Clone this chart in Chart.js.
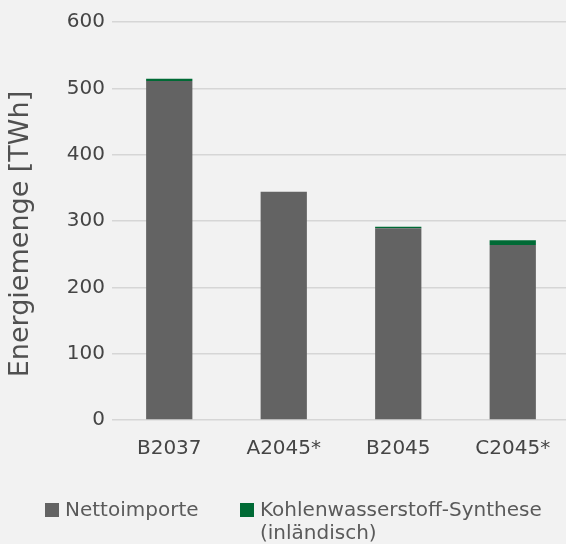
<!DOCTYPE html>
<html>
<head>
<meta charset="utf-8">
<script src="https://cdn.jsdelivr.net/npm/chart.js@4"></script>
<style>
  html, body { margin: 0; padding: 0; background: #f2f2f2; }
  #wrap { width: 566px; height: 544px; }
</style>
</head>
<body>
<div id="wrap"><canvas id="c" width="566" height="544"></canvas></div>
<script>
// Szenarien und Energiemengen in TWh
const categories = ['B2037', 'A2045*', 'B2045', 'C2045*'];
const nettoimporte = [511, 344, 289, 264];
const synthese = [3.5, 0, 2.5, 7];
const seriesLabels = ['Nettoimporte', 'Kohlenwasserstoff-Synthese (inländisch)'];
const legendLines = [['Nettoimporte'], ['Kohlenwasserstoff-Synthese', '(inländisch)']];
const yTicks = [0, 100, 200, 300, 400, 500, 600];
const yTitle = 'Energiemenge [TWh]';

const GRAY = '#636363';
const GREEN = '#006a35';
const TEXT = '#454545';
const FONT = "'DejaVu Sans', sans-serif";

const background = {
  id: 'background',
  beforeDraw(chart) {
    const ctx = chart.ctx;
    ctx.save();
    ctx.fillStyle = '#f2f2f2';
    ctx.fillRect(0, 0, chart.width, chart.height);
    ctx.restore();
  }
};

// Plotbereich rechts etwas über den Rand hinaus verlängern
const widenArea = {
  id: 'widenArea',
  afterLayout(chart) {
    const right = chart.width + 4;
    chart.chartArea.right = right;
    chart.chartArea.width = right - chart.chartArea.left;
    const x = chart.scales.x;
    x.right = right;
    x.width = right - x.left;
    x.configure();
  }
};

// Achsentitel links, senkrecht
const axisTitle = {
  id: 'axisTitle',
  afterDraw(chart) {
    const ctx = chart.ctx;
    ctx.save();
    ctx.translate(21, 234);
    ctx.rotate(-Math.PI / 2);
    ctx.font = '27px ' + FONT;
    ctx.fillStyle = '#505050';
    ctx.textAlign = 'center';
    ctx.textBaseline = 'middle';
    ctx.fillText(yTitle, 0, 0);
    ctx.restore();
  }
};

// Legende unter dem Diagramm, zweiter Eintrag zweizeilig
const bottomLegend = {
  id: 'bottomLegend',
  afterDraw(chart) {
    const ctx = chart.ctx;
    const starts = [45, 240];
    const top = 503, box = 14, lineH = 23;
    ctx.save();
    ctx.font = '20px ' + FONT;
    ctx.textBaseline = 'middle';
    ctx.textAlign = 'left';
    chart.data.datasets.forEach((ds, i) => {
      const x = starts[i];
      ctx.fillStyle = ds.backgroundColor;
      ctx.fillRect(x, top, box, box);
      ctx.fillStyle = '#5a5a5a';
      legendLines[i].forEach((line, j) => {
        ctx.fillText(line, x + box + 6, top + box / 2 + 1 + j * lineH);
      });
    });
    ctx.restore();
  }
};

new Chart(document.getElementById('c'), {
  type: 'bar',
  data: {
    labels: categories,
    datasets: [
      { label: seriesLabels[0], data: nettoimporte, backgroundColor: GRAY, borderWidth: 0 },
      { label: seriesLabels[1], data: synthese, backgroundColor: GREEN, borderWidth: 0 }
    ]
  },
  options: {
    responsive: false,
    animation: false,
    devicePixelRatio: 1,
    layout: { padding: { top: 22, right: 0, bottom: 84, left: 0 } },
    datasets: { bar: { barPercentage: 0.404, categoryPercentage: 1 } },
    plugins: { legend: { display: false }, tooltip: { enabled: false } },
    scales: {
      x: {
        stacked: true,
        grid: { display: false, drawTicks: false },
        border: { display: false },
        ticks: { color: TEXT, font: { family: FONT, size: 20 }, padding: 17 },
        afterFit(scale) { scale.height = 40; }
      },
      y: {
        stacked: true,
        min: 0,
        max: 600,
        afterBuildTicks(scale) { scale.ticks = yTicks.map(v => ({ value: v })); },
        grid: { color: '#d6d6d6', lineWidth: 1.5, drawTicks: false },
        border: { display: false },
        ticks: { color: TEXT, font: { family: FONT, size: 20 }, padding: 7 },
        afterFit(scale) { scale.width = 112; }
      }
    }
  },
  plugins: [background, widenArea, axisTitle, bottomLegend]
});
</script>
</body>
</html>
